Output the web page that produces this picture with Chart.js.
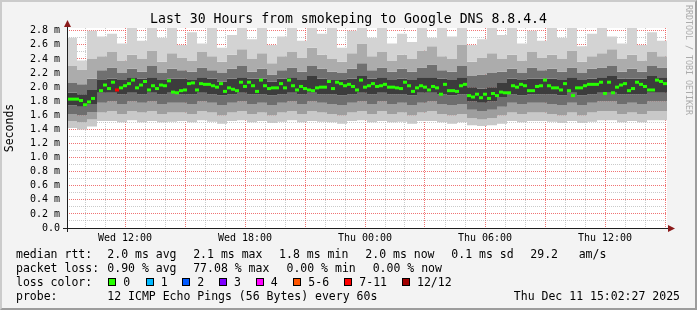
<!DOCTYPE html>
<html>
<head>
<meta charset="utf-8">
<script src="https://cdn.jsdelivr.net/npm/chart.js@4.4.1/dist/chart.umd.min.js"></script>
<style>
  html, body { margin: 0; padding: 0; background: #f3f3f3; }
  #wrap {
    position: relative; width: 697px; height: 310px; overflow: hidden;
    font-family: "DejaVu Sans Mono", monospace; color: #000;
    box-sizing: border-box;
  }
  #frame {
    position: absolute; left: 0; top: 0; width: 697px; height: 310px; box-sizing: border-box;
    border-top: 2px solid #cbcbcb; border-left: 2px solid #cbcbcb;
    border-right: 2px solid #9c9c9c; border-bottom: 2px solid #9c9c9c;
    pointer-events: none;
  }
  canvas { position: absolute; left: 0; top: 0; }
  .t { position: absolute; white-space: pre; font-size: 11.5px; line-height: 14px; }
  #title { position: absolute; left: 0; top: 11px; width: 697px; text-align: center;
           font-size: 13.2px; line-height: 16px; white-space: pre; }
  #side { position: absolute; left: 684px; top: 5px; writing-mode: vertical-rl;
          font-size: 8.3px; line-height: 10px; color: #ababab; white-space: pre; }
  .sw { position: absolute; width: 6px; height: 6px; border: 1px solid #000; }
</style>
</head>
<body>
<div id="wrap">
  <canvas id="chart" width="697" height="310"></canvas>
  <div id="title">Last 30 Hours from smokeping to Google DNS 8.8.4.4</div>
  <div id="side">RRDTOOL / TOBI OETIKER</div>
  <div id="legend"></div>
  <div id="frame"></div>
</div>
<script>
// time axis: hours since the left edge of the plot (Wed 09:06)
const startClock = 9.1;
const stepHours = 0.2;     // one median value every 12 min
const smokeStep = 0.5;     // smoke columns every 30 min
const totalHours = 30;

// median rtt in ms, one per 12 min step (null = no data)
const medianRtt = [
  1.83, 1.83, 1.83, 1.81, 1.75, 1.79, 1.84, null, 1.95, 2.03,
  1.98, 2.07, 1.96, 1.99, 2.02, 2.05, 2.10, 1.99, 2.03, 2.08,
  1.96, 2.02, 1.98, 2.03, 2.02, 2.09, 1.93, 1.92, 1.95, 1.96,
  2.05, 2.06, 1.96, 2.05, 2.04, 2.04, 2.02, 2.00, 2.05, 1.94,
  1.99, 1.97, 1.95, 2.07, 2.01, 2.07, 2.02, 1.94, 2.10, 2.02,
  1.98, 1.99, 1.99, 2.05, 1.99, 2.10, 2.02, 1.96, 2.01, 1.98,
  1.96, 1.95, 1.99, 2.00, 2.00, 2.08, 1.98, 2.07, 2.05, 2.02,
  2.04, 2.01, 1.96, 2.10, 2.00, 2.02, 2.05, 2.01, 2.02, 2.04,
  2.00, 2.00, 1.99, 1.98, 2.07, 2.02, 1.94, 1.99, 2.02, 2.00,
  1.96, 2.01, 1.99, 1.90, 2.04, 1.95, 1.95, 1.94, 2.02, 2.04,
  1.88, 1.86, 1.90, 1.85, 1.90, 1.84, 1.91, 1.88, 1.93, 1.92,
  1.92, 2.02, 2.00, 2.04, 2.02, 1.95, 1.95, 2.01, 2.02, 2.10,
  2.02, 1.99, 1.99, 1.96, 2.05, 1.95, 1.88, 1.99, 1.99, 2.02,
  2.04, 2.04, 2.04, 2.07, 1.91, 2.07, 1.92, 2.00, 2.03, 2.05,
  1.95, 1.98, 2.07, 2.04, 2.01, 1.96, 1.96, 2.10, 2.08, 2.05
];
// steps where 7-11 of 12 pings were lost
const lossHighIdx = [12];

// smoke: spread of the 12 pings, 30 min columns, from top (slowest) to bottom (fastest)
const smokeTop = [
  2.70, 2.38, 2.80, 2.72, 2.76, 2.62, 2.84, 2.66, 2.84, 2.70,
  2.84, 2.60, 2.78, 2.62, 2.84, 2.56, 2.74, 2.84, 2.68, 2.84,
  2.60, 2.72, 2.84, 2.66, 2.84, 2.76, 2.84, 2.56, 2.80, 2.84,
  2.70, 2.84, 2.62, 2.76, 2.64, 2.84, 2.70, 2.84, 2.72, 2.84,
  2.60, 2.68, 2.84, 2.74, 2.84, 2.62, 2.80, 2.66, 2.84, 2.70,
  2.84, 2.58, 2.76, 2.84, 2.72, 2.62, 2.84, 2.60, 2.78, 2.66
];
const smokeHi2 = [
  2.30, 2.25, 2.40, 2.44, 2.50, 2.38, 2.46, 2.40, 2.52, 2.36,
  2.48, 2.42, 2.38, 2.50, 2.44, 2.36, 2.46, 2.54, 2.40, 2.48,
  2.34, 2.44, 2.50, 2.42, 2.56, 2.46, 2.40, 2.36, 2.48, 2.62,
  2.44, 2.50, 2.38, 2.46, 2.40, 2.52, 2.58, 2.44, 2.40, 2.60,
  2.36, 2.42, 2.48, 2.40, 2.46, 2.38, 2.50, 2.42, 2.46, 2.40,
  2.52, 2.36, 2.44, 2.48, 2.54, 2.40, 2.46, 2.38, 2.50, 2.44
];
const smokeHi1 = [
  2.06, 2.04, 2.12, 2.24, 2.28, 2.20, 2.26, 2.22, 2.30, 2.20,
  2.26, 2.24, 2.22, 2.28, 2.24, 2.20, 2.26, 2.30, 2.22, 2.26,
  2.18, 2.24, 2.28, 2.22, 2.30, 2.26, 2.22, 2.20, 2.26, 2.34,
  2.24, 2.28, 2.22, 2.26, 2.22, 2.28, 2.32, 2.24, 2.22, 2.30,
  2.16, 2.18, 2.20, 2.22, 2.26, 2.20, 2.28, 2.24, 2.26, 2.22,
  2.28, 2.20, 2.26, 2.28, 2.30, 2.22, 2.26, 2.22, 2.30, 2.28
];
const smokeHi0 = [
  1.92, 1.90, 1.96, 2.10, 2.12, 2.10, 2.14, 2.12, 2.14, 2.10,
  2.12, 2.12, 2.10, 2.14, 2.12, 2.08, 2.12, 2.14, 2.12, 2.12,
  2.08, 2.12, 2.14, 2.10, 2.16, 2.12, 2.10, 2.10, 2.12, 2.16,
  2.12, 2.14, 2.10, 2.12, 2.10, 2.14, 2.14, 2.12, 2.10, 2.14,
  2.00, 1.98, 2.00, 2.06, 2.12, 2.10, 2.12, 2.12, 2.12, 2.10,
  2.14, 2.10, 2.12, 2.14, 2.16, 2.12, 2.12, 2.12, 2.16, 2.14
];
const smokeLo0 = [
  1.74, 1.72, 1.76, 1.92, 1.92, 1.90, 1.92, 1.90, 1.92, 1.90,
  1.92, 1.90, 1.90, 1.92, 1.90, 1.88, 1.90, 1.92, 1.90, 1.90,
  1.88, 1.90, 1.92, 1.90, 1.92, 1.90, 1.90, 1.88, 1.90, 1.92,
  1.90, 1.92, 1.90, 1.90, 1.88, 1.92, 1.92, 1.90, 1.88, 1.90,
  1.80, 1.78, 1.80, 1.86, 1.90, 1.88, 1.90, 1.90, 1.90, 1.88,
  1.92, 1.88, 1.90, 1.92, 1.92, 1.90, 1.90, 1.90, 1.92, 1.92
];
const smokeLo1 = [
  1.62, 1.60, 1.64, 1.78, 1.80, 1.76, 1.80, 1.78, 1.80, 1.76,
  1.78, 1.78, 1.76, 1.80, 1.78, 1.74, 1.78, 1.80, 1.76, 1.78,
  1.74, 1.78, 1.80, 1.76, 1.80, 1.78, 1.76, 1.74, 1.78, 1.80,
  1.76, 1.80, 1.76, 1.78, 1.74, 1.78, 1.80, 1.76, 1.74, 1.76,
  1.68, 1.66, 1.68, 1.72, 1.78, 1.76, 1.78, 1.78, 1.76, 1.74,
  1.78, 1.74, 1.78, 1.80, 1.80, 1.76, 1.78, 1.76, 1.80, 1.80
];
const smokeLo2 = [
  1.52, 1.50, 1.54, 1.64, 1.66, 1.62, 1.66, 1.64, 1.66, 1.62,
  1.64, 1.64, 1.62, 1.66, 1.64, 1.60, 1.64, 1.66, 1.62, 1.64,
  1.60, 1.64, 1.66, 1.62, 1.66, 1.64, 1.62, 1.60, 1.64, 1.66,
  1.62, 1.66, 1.62, 1.64, 1.60, 1.64, 1.66, 1.62, 1.60, 1.62,
  1.56, 1.54, 1.56, 1.60, 1.64, 1.62, 1.64, 1.64, 1.62, 1.60,
  1.64, 1.60, 1.64, 1.66, 1.66, 1.62, 1.64, 1.62, 1.66, 1.66
];
const smokeBottom = [
  1.42, 1.40, 1.44, 1.52, 1.52, 1.50, 1.53, 1.50, 1.52, 1.50,
  1.51, 1.52, 1.50, 1.53, 1.51, 1.48, 1.52, 1.53, 1.50, 1.52,
  1.49, 1.51, 1.53, 1.50, 1.52, 1.51, 1.50, 1.48, 1.52, 1.53,
  1.50, 1.52, 1.50, 1.51, 1.48, 1.52, 1.52, 1.50, 1.48, 1.50,
  1.46, 1.45, 1.46, 1.48, 1.52, 1.50, 1.52, 1.52, 1.51, 1.49,
  1.52, 1.49, 1.51, 1.53, 1.53, 1.50, 1.52, 1.50, 1.53, 1.53
];

// axis labels
const xLabelHours = [2.9, 8.9, 14.9, 20.9, 26.9];
const xLabelText = ['Wed 12:00', 'Wed 18:00', 'Thu 00:00', 'Thu 06:00', 'Thu 12:00'];
const yMax = 2.84;

// loss colour legend
const lossLabels = ['0', '1', '2', '3', '4', '5-6', '7-11', '12/12'];
const lossColors = ['#26ff00', '#00b8ff', '#0059ff', '#7e00ff', '#ff00ff', '#ff5500', '#ff0000', '#a10000'];

const smokeBands = [smokeTop, smokeHi2, smokeHi1, smokeHi0, smokeLo0, smokeLo1, smokeLo2, smokeBottom];
const bandColors = ['#d3d3d3', '#acacac', '#707070', '#3c3c3c', '#6e6e6e', '#9e9e9e', '#c8c8c8', null];

function smokePoints(arr) {
  const pts = arr.map((v, j) => ({ x: j * smokeStep, y: v }));
  pts.push({ x: totalHours, y: arr[arr.length - 1] }); // close the last column
  return pts;
}

const smokeSets = smokeBands.map((arr, k) => ({
  data: smokePoints(arr),
  stepped: true,
  borderWidth: 0,
  borderColor: 'transparent',
  pointRadius: 0,
  backgroundColor: bandColors[k] || 'transparent',
  fill: bandColors[k] ? '+1' : false
}));

const medianSet = {
  data: medianRtt.map((v, i) => ({ x: i * stepHours + stepHours / 2, y: v })),
  showLine: false,
  pointStyle: 'line',
  pointRadius: 2,
  pointBorderWidth: 3,
  pointBorderColor: medianRtt.map((v, i) => lossHighIdx.includes(i) ? '#ff0000' : '#26ff00'),
  pointBackgroundColor: 'transparent'
};

const plotBg = {
  id: 'plotBg',
  beforeDraw(chart) {
    const { ctx, chartArea: a } = chart;
    ctx.save();
    ctx.fillStyle = '#ffffff';
    ctx.fillRect(a.left, a.top, a.right - a.left, a.bottom - a.top);
    ctx.restore();
  }
};

const axesArrows = {
  id: 'axesArrows',
  afterDraw(chart) {
    const { ctx, chartArea: a } = chart;
    ctx.save();
    ctx.strokeStyle = '#1e1e1e';
    ctx.lineWidth = 1;
    ctx.beginPath();
    ctx.moveTo(a.left - 4, a.bottom + 0.5);
    ctx.lineTo(a.right + 2, a.bottom + 0.5);
    ctx.moveTo(a.left + 0.5, a.bottom + 4);
    ctx.lineTo(a.left + 0.5, a.top - 2);
    ctx.stroke();
    ctx.fillStyle = '#8b1a1a';
    ctx.beginPath();
    ctx.moveTo(a.left + 0.5, a.top - 8);
    ctx.lineTo(a.left - 3, a.top - 1);
    ctx.lineTo(a.left + 4, a.top - 1);
    ctx.closePath();
    ctx.fill();
    ctx.beginPath();
    ctx.moveTo(a.right + 8, a.bottom + 0.5);
    ctx.lineTo(a.right + 1, a.bottom - 3);
    ctx.lineTo(a.right + 1, a.bottom + 4);
    ctx.closePath();
    ctx.fill();
    ctx.restore();
  }
};

const minorGrid = 'rgba(150,150,150,0.5)';
const majorGrid = 'rgba(235,70,70,0.75)';
const mono = '"DejaVu Sans Mono", monospace';

new Chart(document.getElementById('chart'), {
  type: 'line',
  data: { datasets: [medianSet].concat(smokeSets) },
  options: {
    responsive: false,
    animation: false,
    devicePixelRatio: 1,
    layout: { padding: { left: 0, right: 30, top: 28, bottom: 62 } },
    plugins: { legend: { display: false }, tooltip: { enabled: false }, title: { display: false } },
    scales: {
      x: {
        type: 'linear',
        min: 0,
        max: totalHours,
        z: 1,
        afterFit(scale) { scale.height = 20; },
        afterBuildTicks(scale) {
          const ticks = [];
          for (let h = 0.9; h < totalHours; h += 1) ticks.push({ value: Math.round(h * 10) / 10 });
          scale.ticks = ticks;
        },
        border: { display: false, dash: [1, 1] },
        grid: {
          color: (c) => (Math.round(c.tick.value - xLabelHours[0]) % 3 === 0 ? majorGrid : minorGrid),
          tickColor: 'transparent',
          tickLength: 2,
          lineWidth: 1
        },
        ticks: {
          autoSkip: false,
          maxRotation: 0,
          padding: 2,
          color: '#000',
          font: { family: mono, size: 10 },
          callback(v) {
            const k = xLabelHours.findIndex((h) => Math.abs(h - v) < 0.01);
            return k >= 0 ? xLabelText[k] : '';
          }
        }
      },
      y: {
        min: 0,
        max: yMax,
        z: 1,
        afterFit(scale) { scale.width = 67; },
        afterBuildTicks(scale) {
          const ticks = [];
          for (let i = 0; i <= 28; i++) ticks.push({ value: i / 10 });
          scale.ticks = ticks;
        },
        border: { display: false, dash: [1, 1] },
        grid: {
          color: (c) => (Math.round(c.tick.value * 10) % 2 === 0 ? majorGrid : minorGrid),
          tickColor: 'transparent',
          tickLength: 4,
          lineWidth: 1
        },
        title: {
          display: true,
          text: 'Seconds',
          color: '#000',
          font: { family: mono, size: 11.5 },
          padding: { top: 3, bottom: 0 }
        },
        ticks: {
          autoSkip: false,
          padding: 3,
          color: '#000',
          font: { family: mono, size: 10 },
          callback(v) {
            const tenth = Math.round(v * 10);
            if (tenth % 2 !== 0) return '';
            return tenth === 0 ? '0.0' : (tenth / 10).toFixed(1) + ' m';
          }
        }
      }
    }
  },
  plugins: [plotBg, axesArrows]
});

// statistics legend below the plot
const legend = document.getElementById('legend');
function put(text, left, top) {
  const d = document.createElement('div');
  d.className = 't';
  d.textContent = text;
  d.style.left = left + 'px';
  d.style.top = top + 'px';
  legend.appendChild(d);
  return d;
}
const rows = [246.5, 260.5, 274.5, 288.5];
put('median rtt:', 16, rows[0]);
put('2.0 ms avg', 107.3, rows[0]);
put('2.1 ms max', 193.2, rows[0]);
put('1.8 ms min', 279.1, rows[0]);
put('2.0 ms now', 365.3, rows[0]);
put('0.1 ms sd', 451.3, rows[0]);
put('29.2', 530.3, rows[0]);
put('am/s', 578.7, rows[0]);

put('packet loss:', 16, rows[1]);
put('0.90 % avg', 107.3, rows[1]);
put('77.08 % max', 193.2, rows[1]);
put('0.00 % min', 286.5, rows[1]);
put('0.00 % now', 372.7, rows[1]);

put('loss color:', 16, rows[2]);
const swatchX = [108.3, 145.7, 182.3, 219, 255.7, 293.3, 344.3, 402];
lossLabels.forEach((lab, k) => {
  const s = document.createElement('div');
  s.className = 'sw';
  s.style.left = swatchX[k] + 'px';
  s.style.top = '278px';
  s.style.background = lossColors[k];
  legend.appendChild(s);
  put(lab, swatchX[k] + 15, rows[2]);
});

put('probe:', 16, rows[3]);
put('12 ICMP Echo Pings (56 Bytes) every 60s', 107.3, rows[3]);
const stamp = put('Thu Dec 11 15:02:27 2025', 0, rows[3]);
stamp.style.left = '';
stamp.style.right = (697 - 680) + 'px';
</script>
</body>
</html>
